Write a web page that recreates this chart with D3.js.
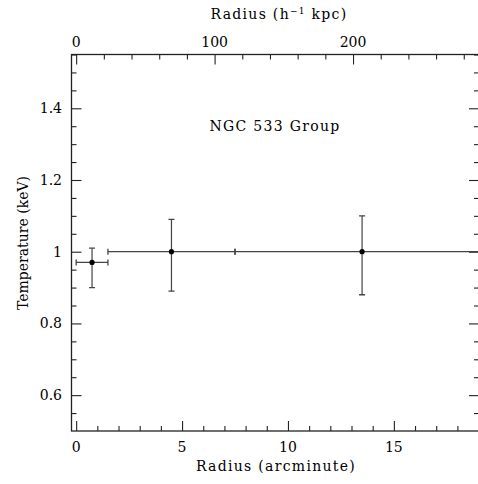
<!DOCTYPE html>
<html>
<head>
<meta charset="utf-8">
<script src="https://cdn.jsdelivr.net/npm/d3@7"></script>
<style>
  html, body { margin: 0; padding: 0; background: #fff; }
  svg text { font-family: "DejaVu Serif", serif; fill: #000; }
  svg text.title { letter-spacing: 1.3px; }
</style>
</head>
<body>
<svg id="chart" width="478" height="484"></svg>
<script>
// Temperature profile of the NGC 533 group (annular bins)
const radiusArcmin = [0.75, 4.5, 13.5];
const radiusLo     = [0.0, 1.5, 7.5];
const radiusHi     = [1.5, 7.5, 19.5];
const temperature  = [0.97, 1.0, 1.0];
const tempLo       = [0.90, 0.89, 0.88];
const tempHi       = [1.01, 1.09, 1.10];

const xTickLabels   = [0, 5, 10, 15];
const yTickLabels   = [0.6, 0.8, 1, 1.2, 1.4];
const kpcTickLabels = [0, 100, 200];
const kpcPerArcmin  = 15.3;

const svg = d3.select("#chart");
const plotL = 71.5, plotR = 479, plotT = 54.5, plotB = 431;

const x = d3.scaleLinear().domain([-0.22, 19.02]).range([plotL, plotR]);
const xKpc = d3.scaleLinear().domain([x.domain()[0] * kpcPerArcmin, x.domain()[1] * kpcPerArcmin]).range([plotL, plotR]);
const y = d3.scaleLinear().domain([0.5, 1.55]).range([plotB, plotT]);

const ink = "#222";
const fmtY = d => (d === 1 ? "1" : d3.format(".1f")(d));

// frame
svg.append("rect").attr("x", plotL).attr("y", plotT)
  .attr("width", plotR - plotL).attr("height", plotB - plotT)
  .attr("fill", "none").attr("stroke", ink).attr("stroke-width", 1.3);

function ticks(axisGen, transform) {
  const g = svg.append("g").attr("transform", transform).call(axisGen);
  g.select(".domain").remove();
  g.selectAll("line").attr("stroke", ink).attr("stroke-width", 1.1);
  g.selectAll("text").remove();
  return g;
}

// bottom axis: minor every 1', major every 5'
const minorX = d3.range(0, 19.01, 1).filter(v => v % 5 !== 0);
const majorX = d3.range(0, 19.01, 5);
ticks(d3.axisTop(x).tickValues(minorX).tickSize(5).tickFormat(""), `translate(0,${plotB})`);
ticks(d3.axisTop(x).tickValues(majorX).tickSize(10).tickFormat(""), `translate(0,${plotB})`);
// top axis in kpc: minor every 20, major every 100
const minorK = d3.range(0, 291, 20).filter(v => v % 100 !== 0);
const majorK = d3.range(0, 291, 100);
ticks(d3.axisBottom(xKpc).tickValues(minorK).tickSize(5).tickFormat(""), `translate(0,${plotT})`);
ticks(d3.axisBottom(xKpc).tickValues(majorK).tickSize(10).tickFormat(""), `translate(0,${plotT})`);
// y axes both sides
const minorY = d3.range(0.55, 1.551, 0.05).map(v => +v.toFixed(2)).filter(v => Math.round(v * 100) % 20 !== 0);
const majorY = d3.range(0.6, 1.55, 0.2).map(v => +v.toFixed(2));
ticks(d3.axisRight(y).tickValues(minorY).tickSize(5).tickFormat(""), `translate(${plotL},0)`);
ticks(d3.axisRight(y).tickValues(majorY).tickSize(10).tickFormat(""), `translate(${plotL},0)`);
ticks(d3.axisLeft(y).tickValues(minorY).tickSize(5).tickFormat(""), `translate(${plotR},0)`);
ticks(d3.axisLeft(y).tickValues(majorY).tickSize(10).tickFormat(""), `translate(${plotR},0)`);

// tick labels
const fs = 14;
svg.append("g").selectAll("text").data(xTickLabels).join("text")
  .attr("x", d => x(d)).attr("y", 452).attr("text-anchor", "middle")
  .attr("font-size", fs).text(d => d);
svg.append("g").selectAll("text").data(kpcTickLabels).join("text")
  .attr("x", d => xKpc(d)).attr("y", 47).attr("text-anchor", "middle")
  .attr("font-size", fs).text(d => d);
svg.append("g").selectAll("text").data(yTickLabels).join("text")
  .attr("x", 62).attr("y", d => y(d) + 5).attr("text-anchor", "end")
  .attr("font-size", fs).text(fmtY);

// axis titles
svg.append("text").attr("class", "title").attr("x", 276).attr("y", 471).attr("text-anchor", "middle")
  .attr("font-size", fs).text("Radius (arcminute)");
const topTitle = svg.append("text").attr("class", "title").attr("x", 279).attr("y", 19).attr("text-anchor", "middle")
  .attr("font-size", fs);
topTitle.append("tspan").text("Radius (h");
topTitle.append("tspan").attr("font-size", 9).attr("dy", -5).text("\u22121");
topTitle.append("tspan").attr("dy", 5).text(" kpc)");
svg.append("text").attr("transform", "translate(28,243) rotate(-90)")
  .attr("text-anchor", "middle").attr("font-size", fs).text("Temperature (keV)");

svg.append("text").attr("class", "title").attr("x", 275).attr("y", 131).attr("text-anchor", "middle")
  .attr("font-size", fs).text("NGC 533 Group");

// data with error bars
const data = radiusArcmin.map((r, i) => ({
  r, lo: radiusLo[i], hi: radiusHi[i], t: temperature[i], tlo: tempLo[i], thi: tempHi[i]
}));
svg.append("clipPath").attr("id", "plotclip").append("rect")
  .attr("x", plotL).attr("y", plotT).attr("width", plotR - plotL).attr("height", plotB - plotT);
const g = svg.append("g").attr("clip-path", "url(#plotclip)");
const eb = "#444", cap = 3;
data.forEach(d => {
  // horizontal bar (bin width)
  g.append("line").attr("x1", x(d.lo)).attr("x2", x(d.hi)).attr("y1", y(d.t)).attr("y2", y(d.t))
    .attr("stroke", eb).attr("stroke-width", 1.2);
  [d.lo, d.hi].forEach(v => g.append("line").attr("x1", x(v)).attr("x2", x(v))
    .attr("y1", y(d.t) - cap).attr("y2", y(d.t) + cap).attr("stroke", eb).attr("stroke-width", 1.3));
  // vertical bar (temperature error)
  g.append("line").attr("x1", x(d.r)).attr("x2", x(d.r)).attr("y1", y(d.tlo)).attr("y2", y(d.thi))
    .attr("stroke", eb).attr("stroke-width", 1.2);
  [d.tlo, d.thi].forEach(v => g.append("line").attr("x1", x(d.r) - cap).attr("x2", x(d.r) + cap)
    .attr("y1", y(v)).attr("y2", y(v)).attr("stroke", eb).attr("stroke-width", 1.3));
  g.append("circle").attr("cx", x(d.r)).attr("cy", y(d.t)).attr("r", 2.6).attr("fill", "#000");
});
</script>
</body>
</html>
